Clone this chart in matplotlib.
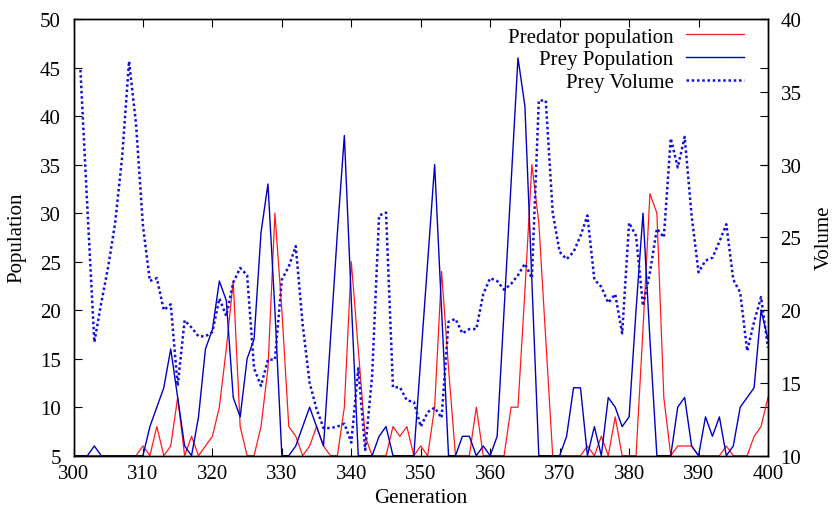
import numpy as np
import matplotlib
matplotlib.use("Agg")
import matplotlib.pyplot as plt

plt.rcParams['font.family'] = ['Liberation Serif', 'DejaVu Serif']
plt.rcParams['font.size'] = 15

# generations 300..400
generation = np.arange(300, 401)

predator = [5, 5, 5, 5, 5, 5, 5, 5, 5, 5,        # 300-309
            6, 5, 8, 5, 6, 11, 5, 7, 5, 6,       # 310-319
            7, 10, 16, 23, 8, 5, 5, 8, 14, 30,   # 320-329
            20, 8, 7, 5, 6, 8, 6, 5, 5, 10,      # 330-339
            25, 16, 7, 5, 5, 5, 8, 7, 8, 5,      # 340-349
            6, 5, 10, 24, 14, 5, 5, 5, 10, 5,    # 350-359
            5, 5, 5, 10, 10, 22, 35, 29, 17, 5,  # 360-369
            5, 5, 5, 5, 6, 5, 7, 5, 9, 5,        # 370-379
            5, 5, 18, 32, 30, 11, 5, 6, 6, 6,    # 380-389
            5, 5, 5, 5, 6, 5, 5, 5, 7, 8,        # 390-399
            11]                                  # 400

prey = [5, 5, 5, 6, 5, 5, 5, 5, 5, 5,            # 300-309
        5, 8, 10, 12, 16, 11, 6, 5, 9, 16,       # 310-319
        18, 23, 21, 11, 9, 15, 17, 28, 33, 20,   # 320-329
        5, 5, 6, 8, 10, 8, 6, 17, 28, 38,        # 330-339
        21, 5, 5, 5, 7, 8, 5, 5, 5, 5,           # 340-349
        15, 25, 35, 20, 5, 5, 7, 7, 5, 6,        # 350-359
        5, 7, 20, 33, 46, 41, 23, 5, 5, 5,       # 360-369
        5, 7, 12, 12, 5, 8, 5, 11, 10, 8,        # 370-379
        9, 20, 30, 17, 5, 5, 5, 10, 11, 6,       # 380-389
        5, 9, 7, 9, 5, 6, 10, 11, 12, 20,        # 390-399
        17]                                      # 400

# prey volume starts at generation 301
volume_gen = np.arange(301, 401)
volume = [36.5, 27.0, 17.8, 20.5, 23.0, 26.0, 30.5, 37.1, 32.8,   # 301-309
          25.8, 22.0, 22.2, 20.0, 20.4, 14.8, 19.3, 18.8, 18.2, 18.2,  # 310-319
          18.5, 20.8, 19.6, 21.9, 22.9, 22.4, 16.0, 14.8, 16.6, 16.6,  # 320-329
          22.1, 23.0, 24.4, 19.0, 15.0, 13.2, 11.9, 11.9, 12.0, 12.2,  # 330-339
          10.9, 16.0, 10.4, 15.5, 26.5, 26.7, 14.7, 14.7, 13.8, 13.7,  # 340-349
          12.0, 13.0, 13.3, 12.6, 19.2, 19.4, 18.4, 18.7, 18.7, 21.1,  # 350-359
          22.2, 22.0, 21.4, 21.8, 22.4, 23.2, 22.2, 34.4, 34.4, 26.7,  # 360-369
          24.0, 23.5, 24.0, 25.1, 26.5, 22.1, 21.6, 20.5, 21.1, 18.4,  # 370-379
          26.0, 25.1, 20.3, 22.6, 25.6, 25.0, 31.8, 29.8, 31.9, 26.5,  # 380-389
          22.6, 23.4, 23.6, 24.7, 25.9, 22.1, 21.2, 17.2, 19.2, 20.9,  # 390-399
          17.4]                                                        # 400

fig = plt.figure(figsize=(8.32, 5.10), dpi=100)
ax = fig.add_axes([73.5 / 832, 1 - 456.7 / 510, (768 - 73.5) / 832, (456.7 - 20) / 510])
ax2 = ax.twinx()

l1, = ax.plot(generation, predator, color='#ff1a1a', lw=0.9, label='Predator population')
l2, = ax.plot(generation, prey, color='#0000c0', lw=1.0, label='Prey Population')
l3, = ax2.plot(volume_gen, volume, color='#1010d8', lw=1.8, ls=(0, (1, 1.1)),
               label='Prey Volume')

ax.set_xlim(300, 400)
ax.set_ylim(5, 50)
ax2.set_ylim(10, 40)
ax.set_xticks(np.arange(300, 401, 10))
ax.set_yticks(np.arange(5, 51, 5))
ax2.set_yticks(np.arange(10, 41, 5))

ax.tick_params(direction='in', length=6, width=0.8, top=True, right=True,
               labelright=False, labelsize=15, pad=6)
ax.tick_params(axis='y', pad=9)
ax2.tick_params(direction='in', length=6, width=0.8, labelsize=15, pad=9)
for a in (ax, ax2):
    for s in a.spines.values():
        s.set_linewidth(1.0)

fig.text(0.5 * (73.5 + 768) / 832, 1 - 499 / 510, 'Generation', ha='center', va='center', fontsize=15)
fig.text(17 / 832, 1 - 238 / 510, 'Population', ha='center', va='center', rotation=90, fontsize=15)
fig.text(824 / 832, 1 - 238 / 510, 'Volume', ha='center', va='center', rotation=90, fontsize=15)

leg = ax.legend(handles=[l1, l2, l3], loc='upper right', markerfirst=False, frameon=False,
                bbox_to_anchor=(743.5 / 832, 1 - 28 / 510), bbox_transform=fig.transFigure,
                borderpad=0, borderaxespad=0, handlelength=2.75, handletextpad=0.6,
                labelspacing=0.15, fontsize=15)

fig.savefig('out.png', dpi=100)
